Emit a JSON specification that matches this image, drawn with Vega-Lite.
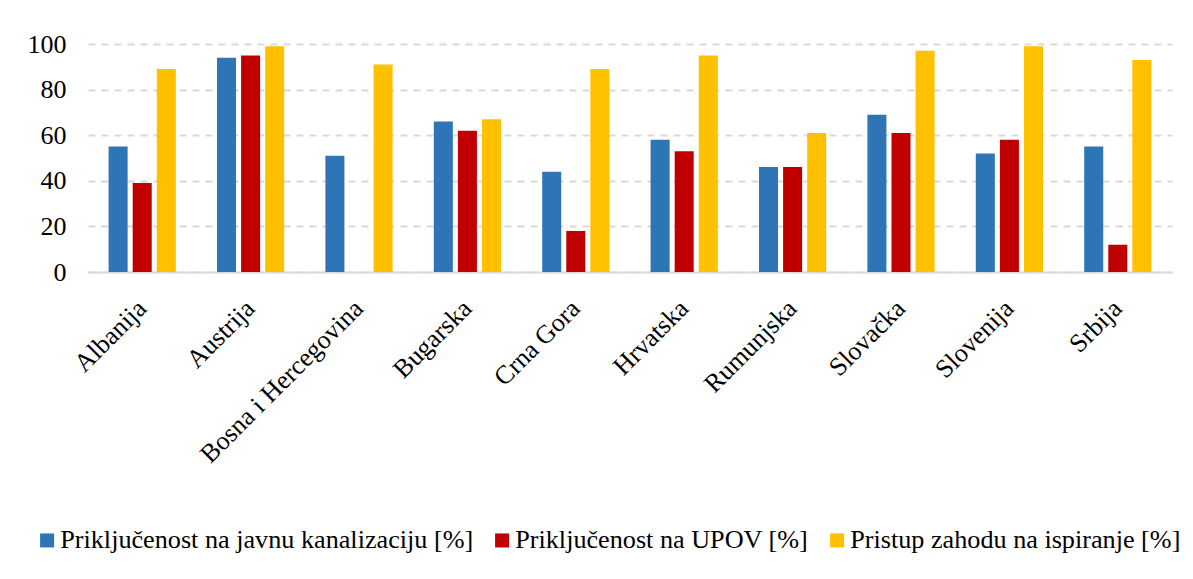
{
  "$schema": "https://vega.github.io/schema/vega-lite/v6.json",
  "width": 1084,
  "height": 228,
  "autosize": {"type": "none"},
  "padding": {"left": 88, "top": 44, "right": 21, "bottom": 307},
  "background": "white",
  "config": {"font": "Liberation Serif", "view": {"stroke": null}},
  "data": {
    "values": [
      {"country": "Albanija", "series": "Priključenost na javnu kanalizaciju [%]", "value": 55},
      {"country": "Albanija", "series": "Priključenost na UPOV [%]", "value": 39},
      {"country": "Albanija", "series": "Pristup zahodu na ispiranje [%]", "value": 89},
      {"country": "Austrija", "series": "Priključenost na javnu kanalizaciju [%]", "value": 94},
      {"country": "Austrija", "series": "Priključenost na UPOV [%]", "value": 95},
      {"country": "Austrija", "series": "Pristup zahodu na ispiranje [%]", "value": 99},
      {"country": "Bosna i Hercegovina", "series": "Priključenost na javnu kanalizaciju [%]", "value": 51},
      {"country": "Bosna i Hercegovina", "series": "Pristup zahodu na ispiranje [%]", "value": 91},
      {"country": "Bugarska", "series": "Priključenost na javnu kanalizaciju [%]", "value": 66},
      {"country": "Bugarska", "series": "Priključenost na UPOV [%]", "value": 62},
      {"country": "Bugarska", "series": "Pristup zahodu na ispiranje [%]", "value": 67},
      {"country": "Crna Gora", "series": "Priključenost na javnu kanalizaciju [%]", "value": 44},
      {"country": "Crna Gora", "series": "Priključenost na UPOV [%]", "value": 18},
      {"country": "Crna Gora", "series": "Pristup zahodu na ispiranje [%]", "value": 89},
      {"country": "Hrvatska", "series": "Priključenost na javnu kanalizaciju [%]", "value": 58},
      {"country": "Hrvatska", "series": "Priključenost na UPOV [%]", "value": 53},
      {"country": "Hrvatska", "series": "Pristup zahodu na ispiranje [%]", "value": 95},
      {"country": "Rumunjska", "series": "Priključenost na javnu kanalizaciju [%]", "value": 46},
      {"country": "Rumunjska", "series": "Priključenost na UPOV [%]", "value": 46},
      {"country": "Rumunjska", "series": "Pristup zahodu na ispiranje [%]", "value": 61},
      {"country": "Slovačka", "series": "Priključenost na javnu kanalizaciju [%]", "value": 69},
      {"country": "Slovačka", "series": "Priključenost na UPOV [%]", "value": 61},
      {"country": "Slovačka", "series": "Pristup zahodu na ispiranje [%]", "value": 97},
      {"country": "Slovenija", "series": "Priključenost na javnu kanalizaciju [%]", "value": 52},
      {"country": "Slovenija", "series": "Priključenost na UPOV [%]", "value": 58},
      {"country": "Slovenija", "series": "Pristup zahodu na ispiranje [%]", "value": 99},
      {"country": "Srbija", "series": "Priključenost na javnu kanalizaciju [%]", "value": 55},
      {"country": "Srbija", "series": "Priključenost na UPOV [%]", "value": 12},
      {"country": "Srbija", "series": "Pristup zahodu na ispiranje [%]", "value": 93}
    ]
  },
  "mark": {"type": "bar"},
  "encoding": {
    "x": {
      "field": "country", "type": "nominal", "sort": null,
      "scale": {"paddingInner": 0.38, "paddingOuter": 0.19},
      "axis": {"title": null, "labelAngle": -45, "labelAlign": "right", "labelBaseline": "middle", "labelFont": "Liberation Serif", "labelFontSize": 26, "labelColor": "black", "ticks": false, "domainColor": "#d9d9d9", "domainWidth": 2, "labelPadding": 32, "labelLimit": 0}
    },
    "xOffset": {
      "field": "series", "type": "nominal", "sort": null,
      "scale": {"domain": ["Priključenost na javnu kanalizaciju [%]", "Priključenost na UPOV [%]", "Pristup zahodu na ispiranje [%]"], "paddingInner": 0.21}
    },
    "y": {
      "field": "value", "type": "quantitative",
      "scale": {"domain": [0, 100]},
      "axis": {"title": null, "values": [0, 20, 40, 60, 80, 100], "domain": false, "ticks": false, "labelFont": "Liberation Serif", "labelFontSize": 26, "labelColor": "black", "labelPadding": 22, "gridColor": "#d9d9d9", "gridDash": [7, 6], "gridWidth": 2}
    },
    "color": {
      "field": "series", "type": "nominal", "sort": null,
      "scale": {"domain": ["Priključenost na javnu kanalizaciju [%]", "Priključenost na UPOV [%]", "Pristup zahodu na ispiranje [%]"], "range": ["#2E75B6", "#C00000", "#FFC000"]},
      "legend": {"title": null, "orient": "none", "legendX": -54, "legendY": 483, "padding": 0, "direction": "horizontal", "symbolType": "square", "symbolSize": 196, "labelFont": "Liberation Serif", "labelFontSize": 26.2, "labelColor": "black", "columnPadding": 15, "labelOffset": 0, "symbolStrokeWidth": 0, "labelLimit": 0}
    }
  }
}
